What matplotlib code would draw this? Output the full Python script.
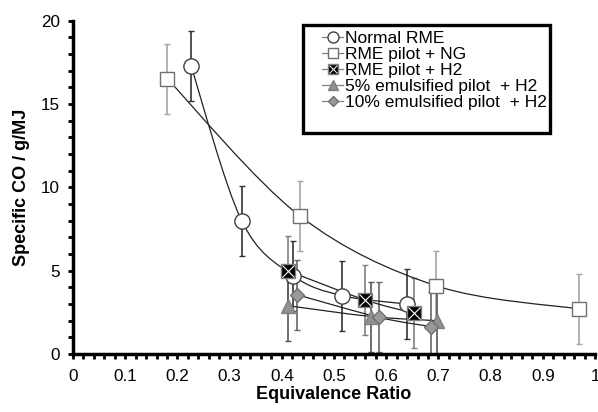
import numpy as np
import matplotlib
matplotlib.use("Agg")
import matplotlib.pyplot as plt
from matplotlib.path import Path
from matplotlib.patches import PathPatch, Rectangle
from matplotlib.lines import Line2D

plt.rcParams['font.family'] = ['Liberation Sans', 'DejaVu Sans']

# Specific CO emissions vs equivalence ratio
normal_x = [0.226, 0.323, 0.422, 0.516, 0.639]
normal_y = [17.3, 8.0, 4.7, 3.5, 3.0]
normal_err = [2.1, 2.1, 2.1, 2.1, 2.1]

ng_x = [0.181, 0.434, 0.695, 0.970]
ng_y = [16.5, 8.3, 4.1, 2.7]
ng_err = [2.1, 2.1, 2.1, 2.1]

h2_x = [0.411, 0.559, 0.653]
h2_y = [5.0, 3.25, 2.45]
h2_err = [2.1, 2.1, 2.1]

e5_x = [0.411, 0.571, 0.697]
e5_y = [2.9, 2.25, 2.0]
e5_err = [2.1, 2.1, 2.1]

e10_x = [0.430, 0.586, 0.685]
e10_y = [3.55, 2.2, 1.65]
e10_err = [2.1, 2.1, 2.1]

labels = ["Normal RME", "RME pilot + NG", "RME pilot + H2",
          "5% emulsified pilot  + H2", "10% emulsified pilot  + H2"]

x_ticks = [0, 0.1, 0.2, 0.3, 0.4, 0.5, 0.6, 0.7, 0.8, 0.9, 1]
x_tick_labels = ["0", "0.1", "0.2", "0.3", "0.4", "0.5", "0.6", "0.7", "0.8", "0.9", "1"]
y_ticks = [0, 5, 10, 15, 20]

W, H = 598, 412


def smooth_path(xs, ys):
    """Cardinal (Catmull-Rom) Bezier path through the points."""
    p = np.column_stack([xs, ys]).astype(float)
    n = len(p)
    verts = [p[0]]
    codes = [Path.MOVETO]
    for i in range(n - 1):
        p0 = p[i - 1] if i > 0 else p[i]
        p1 = p[i]
        p2 = p[i + 1]
        p3 = p[i + 2] if i + 2 < n else p[i + 1]
        c1 = p1 + (p2 - p0) / 6.0
        c2 = p2 - (p3 - p1) / 6.0
        verts += [c1, c2, p2]
        codes += [Path.CURVE4] * 3
    return Path(verts, codes)


fig = plt.figure(figsize=(W / 100, H / 100), dpi=100)
ax = fig.add_axes([73 / W, 1 - 354 / H, 522 / W, (354 - 20.7) / H])

series = [
    (normal_x, normal_y, normal_err, "#333333"),
    (ng_x, ng_y, ng_err, "#a6a6a6"),
    (h2_x, h2_y, h2_err, "#808080"),
    (e5_x, e5_y, e5_err, "#555555"),
    (e10_x, e10_y, e10_err, "#666666"),
]

for xs, ys, err, ecol in series:
    ax.errorbar(xs, ys, yerr=err, fmt="none", ecolor=ecol, elinewidth=1.2,
                capsize=2.2, capthick=1.0, zorder=2)
    ax.add_patch(PathPatch(smooth_path(xs, ys), fill=False, edgecolor="#222222",
                           linewidth=0.9, zorder=3))

# marker styles: (marker, size, face, edge) plus optional overlay
styles = [
    [("o", 11, "white", "#404040")],
    [("s", 10.5, "white", "#707070")],
    [("s", 10, "black", "#808080"), ("x", 8, "none", "white")],
    [("^", 10, "#909090", "#808080")],
    [("D", 7.5, "#999999", "#707070")],
]
all_x = [normal_x, ng_x, h2_x, e5_x, e10_x]
all_y = [normal_y, ng_y, h2_y, e5_y, e10_y]

for xs, ys, st in zip(all_x, all_y, styles):
    for k, (m, ms, fc, ec) in enumerate(st):
        ax.plot(xs, ys, ls="none", marker=m, ms=ms, mfc=fc, mec=ec,
                mew=0.8 if m == "x" else 1.0, zorder=5 + k)

ax.set_xlim(0, 1)
ax.set_ylim(0, 20)
ax.set_xticks(x_ticks)
ax.set_xticklabels(x_tick_labels)
ax.set_yticks(y_ticks)
ax.set_xticks(np.arange(0, 1.0001, 0.02), minor=True)
ax.set_yticks(np.arange(0, 20.001, 1), minor=True)
ax.tick_params(axis="both", which="both", direction="out", width=2, length=3.5,
               labelsize=12.3, color="black")
ax.tick_params(axis="y", which="major", pad=6)
ax.tick_params(axis="x", which="major", pad=7)
for side in ("top", "right"):
    ax.spines[side].set_visible(False)
for side in ("left", "bottom"):
    ax.spines[side].set_linewidth(2.5)

ax.set_xlabel("Equivalence Ratio", fontsize=13, fontweight="bold", labelpad=2)
ax.set_ylabel("Specific CO / g/MJ", fontsize=13, fontweight="bold", labelpad=8)

# legend: framed box with one row per series
fig.add_artist(Rectangle((303 / W, 1 - 133 / H), (550 - 303) / W, (133 - 25) / H,
                         transform=fig.transFigure, fill=True, facecolor="white",
                         edgecolor="black", linewidth=2.4, zorder=9))
row0, pitch = 37.3, 16.0
hx0, hx1, tx = 322, 343, 345
for i, (lab, st) in enumerate(zip(labels, styles)):
    yy = 1 - (row0 + i * pitch) / H
    fig.add_artist(Line2D([hx0 / W, hx1 / W], [yy, yy], transform=fig.transFigure,
                          color="#808080", lw=0.9, zorder=10))
    for k, (m, ms, fc, ec) in enumerate(st):
        fig.add_artist(Line2D([(hx0 + hx1) / 2 / W], [yy], transform=fig.transFigure,
                              ls="none", marker=m, ms=ms * 0.72, mfc=fc, mec=ec,
                              mew=0.7 if m == "x" else 1.0, zorder=11 + k))
    fig.text(tx / W, yy, lab, fontsize=12.5, ha="left", va="center_baseline",
             zorder=12)

fig.savefig("out.png", dpi=100)
